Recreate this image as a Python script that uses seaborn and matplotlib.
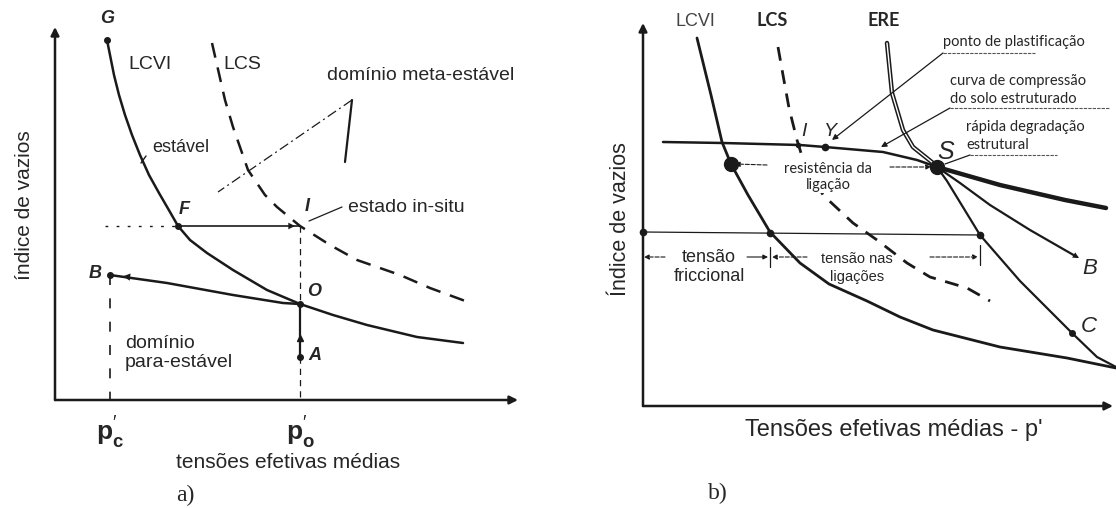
import matplotlib
matplotlib.use("Agg")
import matplotlib.pyplot as plt
import seaborn as sns

# ---------------- a) states in the (p', e) plane ----------------
a_lcvi_p = [52, 55, 59, 64, 70, 77, 85, 94, 104, 115, 123, 135, 152, 178, 212, 245, 278, 312, 362, 408]
a_lcvi_e = [360, 345, 325, 305, 285, 265, 245, 225, 207, 188, 174, 160, 147, 130, 110, 96, 85, 75, 63, 57]
a_lcs_p = [157, 170, 178, 193, 210, 222, 245, 275, 302, 345, 375, 413]
a_lcs_e = [357, 300, 273, 230, 205, 193, 174, 155, 140, 125, 112, 98]
a_unload_p = [55, 112, 178, 228, 245]
a_unload_e = [125, 117, 105, 97, 96]
a_pc, a_po = 55, 245          # p'c and p'o
a_pF, a_eF = 123, 174         # point F (same e as in-situ state I)
a_eO, a_eA, a_eB = 96, 43, 125

# ---------------- b) structured soil ----------------
b_lcvi_p = [54, 68, 79, 88, 105, 127, 157, 186, 224, 257, 290, 357, 424, 473]
b_lcvi_e = [368, 311, 264, 242, 211, 174, 143, 122, 105, 89, 76, 59, 48, 38]
b_lcs_p = [135, 140, 146, 154, 158, 180, 210, 234, 264, 287, 324, 347]
b_lcs_e = [359, 331, 298, 266, 253, 211, 183, 166, 143, 129, 118, 105]
b_struct_p = [20, 80, 157, 182, 240, 274, 294]
b_struct_e = [264, 263, 261, 259, 254, 246, 239]
b_post_p = [294, 357, 422, 463]
b_post_e = [239, 221, 206, 198]
b_ere_p = [244, 249, 260, 270, 290, 294]
b_ere_e = [363, 313, 276, 259, 243, 239]
b_pathB_p = [294, 317, 347, 387, 434]
b_pathB_e = [239, 223, 201, 176, 149]
b_pathC_p = [294, 304, 337, 377, 429, 454, 473]
b_pathC_e = [239, 225, 171, 125, 73, 49, 39]
b_pS, b_eS = 294, 239
b_pY, b_eY = 182, 259
b_pI = 155
b_p_bond, b_e_bond = 88, 242
b_e_ref = 174
b_ref_p = [0, 127, 337]       # y-axis, LCVI, path C
b_pC, b_eC = 429, 73
b_e_dim = 149                 # level of the stress dimension line

sns.set_theme(style="white")
plt.rcParams["font.family"] = ["Liberation Sans", "DejaVu Sans"]
plt.rcParams["mathtext.fontset"] = "custom"
plt.rcParams["mathtext.bf"] = "Liberation Sans:bold"
plt.rcParams["mathtext.rm"] = "Liberation Sans"

W, H = 1116, 508
fig = plt.figure(figsize=(W / 100, H / 100), dpi=100)
fig.patch.set_facecolor("white")

axa = fig.add_axes([55 / W, (H - 400) / H, 463 / W, 373 / H])
axb = fig.add_axes([643 / W, (H - 406) / H, 470 / W, 383 / H])
axa.set_xlim(0, 463); axa.set_ylim(0, 373)
axb.set_xlim(0, 470); axb.set_ylim(0, 383)
for ax in (axa, axb):
    ax.set_axis_off()
    ax.set_facecolor("none")


def curve(ax, p, e, lw=1.8, **kw):
    sns.lineplot(x=p, y=e, ax=ax, sort=False, estimator=None, color="k",
                 lw=lw, legend=False, **kw)
    for ln in ax.lines[-1:]:
        ln.set_clip_on(False)
        ln.set_solid_capstyle("round")
        ln.set_solid_joinstyle("round")


def arrow(ax, start, end, lw=1.0, ls="-", head="-|>", ms=10, color="k"):
    ax.annotate("", xy=end, xytext=start, annotation_clip=False,
                arrowprops=dict(arrowstyle=head, lw=lw, ls=ls, color=color,
                                mutation_scale=ms, shrinkA=0, shrinkB=0))


def dot(ax, p, e, s=4):
    ax.plot(p, e, "o", color="k", ms=s, clip_on=False, zorder=5)


# ================= panel a =================
arrow(axa, (0, 0), (0, 373), lw=1.8, ms=12)
arrow(axa, (0, 0), (463, 0), lw=1.8, ms=12)

curve(axa, a_lcvi_p, a_lcvi_e, lw=1.8)
curve(axa, a_lcs_p, a_lcs_e, lw=1.8, linestyle=(0, (6, 4)))
curve(axa, a_unload_p, a_unload_e, lw=1.8)
arrow(axa, (88, 121.5), (68, 123.7), lw=0, ms=13)

# F -> I at constant void ratio
axa.plot([50, a_pF], [a_eF, a_eF], color="k", lw=1.0, ls=(0, (2, 6)), clip_on=False)
axa.plot([a_pF, a_po], [a_eF, a_eF], color="k", lw=1.2, clip_on=False)
arrow(axa, (215, a_eF), (240, a_eF), lw=0, ms=12)
# verticals at p'o and p'c
axa.plot([a_po, a_po], [a_eF, a_eO], color="k", lw=0.9, ls=(0, (5, 4)))
axa.plot([a_po, a_po], [a_eA, 0], color="k", lw=0.9, ls=(0, (5, 4)))
axa.plot([a_po, a_po], [a_eO, a_eA], color="k", lw=1.6)
axa.plot([a_po], [62], marker="^", color="k", ms=5)
axa.plot([a_pc, a_pc], [a_eB, 0], color="k", lw=1.2, ls=(0, (6, 8)))
for p, e in [(52, 360), (a_pF, a_eF), (a_po, a_eO), (a_pc, a_eB), (a_po, a_eA)]:
    dot(axa, p, e, s=4)

# meta-stable domain pointer
axa.plot([297, 163], [300, 208], color="k", lw=0.9, ls=(0, (8, 3, 1.5, 3)), clip_on=False)
axa.plot([297, 290], [300, 238], color="k", lw=1.6, clip_on=False)
# in-situ pointer
axa.plot([254, 287], [179, 193], color="k", lw=0.9)
axa.plot([86, 91], [237, 244], color="k", lw=1.0)

fa = 14
kw_it = dict(fontsize=13, style="italic", fontweight="bold", ha="center", va="center")
axa.text(52, 381, "G", **kw_it)
axa.text(129, 191, "F", **kw_it)
axa.text(252, 193, "I", **kw_it)
axa.text(259, 109, "O", **kw_it)
axa.text(260, 44, "A", **kw_it)
axa.text(40, 127, "B", **kw_it)
axa.text(73, 335, "LCVI", fontsize=fa, va="center")
axa.text(168, 335, "LCS", fontsize=fa, va="center")
axa.text(97, 252, "estável", fontsize=13, va="center")
axa.text(272, 324, "domínio meta-estável", fontsize=fa, va="center")
axa.text(293, 192, "estado in-situ", fontsize=fa, va="center")
axa.text(70, 47, "domínio\npara-estável", fontsize=fa, va="center", linespacing=1.15)
axa.text(a_pc, -32, r"$\mathbf{p}_{\mathbf{c}}^{\prime}$", fontsize=19, ha="center", va="center")
axa.text(a_po, -32, r"$\mathbf{p}_{\mathbf{o}}^{\prime}$", fontsize=19, ha="center", va="center")
axa.text(233, -63, "tensões efetivas médias", fontsize=15, ha="center", va="center")
axa.text(-30, 195, "índice de vazios", fontsize=15, rotation=90, ha="center", va="center")
axa.text(130, -95, "a)", fontsize=17, ha="center", va="center", family="Liberation Serif")

# ================= panel b =================
arrow(axb, (0, 0), (0, 383), lw=1.8, ms=12)
arrow(axb, (0, 0), (470, 0), lw=1.8, ms=12)

curve(axb, b_lcvi_p, b_lcvi_e, lw=2.0)
curve(axb, b_lcs_p, b_lcs_e, lw=2.0, linestyle=(0, (5, 3.5)))
curve(axb, b_struct_p, b_struct_e, lw=1.8)
curve(axb, b_post_p, b_post_e, lw=3.2)
curve(axb, b_pathB_p, b_pathB_e, lw=1.6)
arrow(axb, (420, 157), (436, 148), lw=0, ms=11)
curve(axb, b_pathC_p, b_pathC_e, lw=1.6)
# ERE drawn as a double line
curve(axb, b_ere_p, b_ere_e, lw=3.2)
axb.plot(b_ere_p, b_ere_e, color="white", lw=1.0, clip_on=False)

# reference void-ratio line with its stress split
axb.plot([b_ref_p[0], b_ref_p[-1]], [b_e_ref, b_e_ref - 3], color="k", lw=0.9, clip_on=False)
for p in b_ref_p:
    dot(axb, p, b_e_ref - 3 * p / b_ref_p[-1], s=4.5)
dot(axb, b_pC, b_eC, s=4)
dot(axb, b_pY, b_eY, s=4.5)
dot(axb, b_pI, 261, s=3)
dot(axb, b_p_bond, b_e_bond, s=10)
dot(axb, b_pS, b_eS, s=10)

lwd = 0.8
arrow(axb, (22, b_e_dim), (1, b_e_dim), lw=lwd, ls="--", head="-|>", ms=7)
arrow(axb, (104, b_e_dim), (125, b_e_dim), lw=lwd, head="-|>", ms=7)
arrow(axb, (164, b_e_dim), (129, b_e_dim), lw=lwd, ls="--", head="-|>", ms=7)
arrow(axb, (287, b_e_dim), (335, b_e_dim), lw=lwd, ls="--", head="-|>", ms=7)
axb.plot([127, 127], [b_e_dim - 10, b_e_dim + 10], color="k", lw=0.9)
axb.plot([337, 337], [b_e_dim - 8, b_e_dim + 12], color="k", lw=0.9)
# bond resistance arrows
arrow(axb, (124, 241), (92, 242), lw=lwd, ls="--", head="-|>", ms=7)
arrow(axb, (247, 239), (288, 239), lw=lwd, ls="--", head="-|>", ms=7)

# leaders from the notes
gray = "#555555"
axb.plot([300, 392], [353, 353], color=gray, lw=0.8, ls=(0, (3, 1)), clip_on=False)
arrow(axb, (300, 353), (189, 266), lw=0.9, head="-|>", ms=8)
axb.plot([307, 466], [298, 298], color=gray, lw=0.8, ls=(0, (3, 1)), clip_on=False)
arrow(axb, (307, 298), (238, 259), lw=0.9, head="-|>", ms=8)
axb.plot([327, 414], [251, 251], color=gray, lw=0.8, ls=(0, (3, 1)), clip_on=False)
axb.plot([327, 302], [251, 242], color="k", lw=0.9)

hum = ["Lato", "DejaVu Sans"]
axb.text(52, 385, "LCVI", fontsize=13, ha="center", va="center", color="#444444")
axb.text(129, 385, "LCS", fontsize=13, ha="center", va="center", family=hum, fontweight="bold")
axb.text(241, 385, "ERE", fontsize=13, ha="center", va="center", family=hum, fontweight="bold")
axb.text(300, 364, "ponto de plastificação", fontsize=10.5, va="center", family=hum)
axb.text(307, 316, "curva de compressão\ndo solo estruturado", fontsize=10.5, va="center",
         family=hum, linespacing=1.3)
axb.text(323, 270, "rápida degradação\nestrutural", fontsize=10.5, va="center",
         family=hum, linespacing=1.3)
axb.text(185, 229, "resistência da\nligação", fontsize=10.5, ha="center", va="center",
         family=hum, linespacing=1.2,
         bbox=dict(boxstyle="square,pad=0.05", fc="white", ec="none"), zorder=4)
axb.text(66, 139, "tensão\nfriccional", fontsize=13, ha="center", va="center", linespacing=1.1)
axb.text(214, 138, "tensão nas\nligações", fontsize=10.5, ha="center", va="center", linespacing=1.3)

kw_b = dict(style="italic", ha="center", va="center")
axb.text(303, 254, "S", fontsize=18, **kw_b)
axb.text(161, 275, "I", fontsize=14, **kw_b)
axb.text(187, 275, "Y", fontsize=14, **kw_b)
axb.text(447, 138, "B", fontsize=16, **kw_b)
axb.text(446, 79, "C", fontsize=16, **kw_b)

axb.text(251, -24, "Tensões efetivas médias - p'", fontsize=17, ha="center", va="center")
axb.text(-22, 187, "Índice de vazios", fontsize=15.5, rotation=90, ha="center", va="center")
axb.text(75, -87, "b)", fontsize=17, ha="center", va="center", family="Liberation Serif")

fig.savefig("out.png", dpi=100, facecolor="white")
